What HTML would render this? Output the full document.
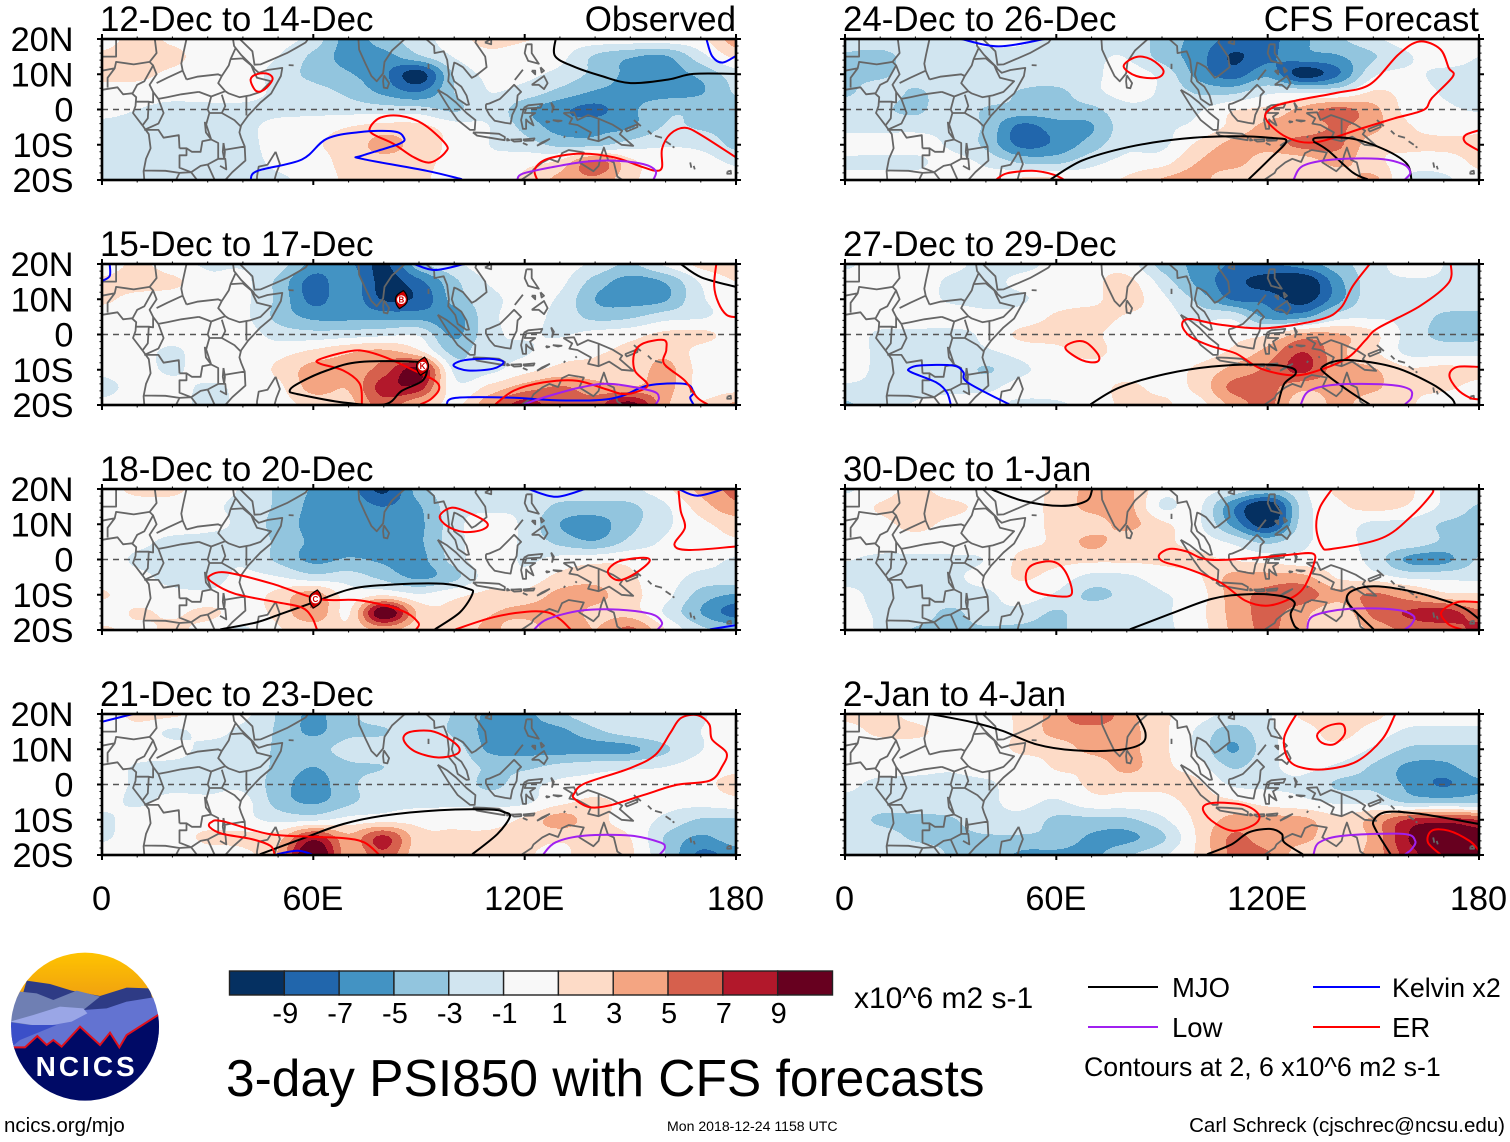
<!DOCTYPE html>
<html lang="en">
<head>
<meta charset="utf-8">
<title>3-day PSI850 with CFS forecasts</title>
<style>
html,body{margin:0;padding:0;background:#fff;}
svg{display:block;}
text{font-family:"Liberation Sans",Arial,sans-serif;fill:#000;}
</style>
</head>
<body>
<svg id="chart" xmlns="http://www.w3.org/2000/svg" width="1510" height="1142" viewBox="0 0 1510 1142">
  <g id="panels"></g>

  <g id="colorbar"></g>
  <text x="854" y="1008" font-size="30">x10^6 m2 s-1</text>

  <text x="226" y="1096" font-size="51.5">3-day PSI850 with CFS forecasts</text>

  <g>
    <line x1="1088" y1="987" x2="1158" y2="987" stroke="#000" stroke-width="2"/>
    <text x="1172" y="997" font-size="27.5">MJO</text>
    <line x1="1313" y1="987" x2="1380" y2="987" stroke="#0000ff" stroke-width="2"/>
    <text x="1392" y="997" font-size="26.8">Kelvin x2</text>
    <line x1="1088" y1="1027" x2="1158" y2="1027" stroke="#a020f0" stroke-width="2"/>
    <text x="1172" y="1037" font-size="27.5">Low</text>
    <line x1="1313" y1="1027" x2="1380" y2="1027" stroke="#ff0000" stroke-width="2"/>
    <text x="1392" y="1037" font-size="27.5">ER</text>
    <text x="1084" y="1076" font-size="26.7">Contours at 2, 6 x10^6 m2 s-1</text>
  </g>

  <g transform="translate(0,940) scale(0.33333)">
    <defs>
      <clipPath id="logo-clip"><circle cx="255" cy="260" r="222"/></clipPath>
      <linearGradient id="logo-sun" x1="0" y1="0" x2="0" y2="1"><stop offset="0" stop-color="#ffc400"/><stop offset="1" stop-color="#f0a010"/></linearGradient>
    </defs>
    <g clip-path="url(#logo-clip)">
      <rect x="30" y="35" width="450" height="140" fill="url(#logo-sun)"/>
      <path d="M80 122 L150 132 L215 152 L300 168 L380 143 L450 145 L490 330 L20 330 Z" fill="#2e3b85"/>
      <path d="M20 215 L60 155 L110 160 L160 180 L230 152 L300 170 L250 210 L130 260 L20 260 Z" fill="#6f7fb3"/>
      <path d="M250 210 L320 205 L380 185 L460 172 L490 230 L490 340 L20 340 L40 300 L130 260 Z" fill="#6373d1"/>
      <path d="M30 245 L100 225 L180 200 L250 205 L262 220 L215 245 L130 260 Z" fill="#9aa6e6"/>
      <path d="M20 245 L90 255 L170 255 L60 300 L30 325 Z" fill="#3b4fc8"/>
      <path d="M20 322 L75 322 L112 288 L140 315 L160 300 L185 320 L240 260 L300 315 L330 278 L358 322 L380 285 L490 215 L490 490 L20 490 Z" fill="#000a66"/>
      <path d="M40 322 L75 322 L112 288 L140 315 L160 300 L185 320 L240 260 L300 315 L330 278 L358 322 L380 285 L490 215" fill="none" stroke="#e0101c" stroke-width="6"/>
    </g>
    <text x="260" y="408" font-size="84" font-weight="700" letter-spacing="9" text-anchor="middle" style="fill:#fff">NCICS</text>
  </g>

  <text x="4" y="1132" font-size="20.5">ncics.org/mjo</text>
  <text x="667" y="1131" font-size="14.1">Mon 2018-12-24 1158 UTC</text>
  <text x="1505" y="1132" font-size="20.5" text-anchor="end">Carl Schreck (cjschrec@ncsu.edu)</text>
</svg>

<script>
// ---------- shared axis data ----------
const lonTicks = [0, 60, 120, 180];
const lonLabels = ["0", "60E", "120E", "180"];
const latTicks = [20, 10, 0, -10, -20];
const latLabels = ["20N", "10N", "0", "10S", "20S"];
const levels = [-9, -7, -5, -3, -1, 1, 3, 5, 7, 9];
const bandColors = ["#053061", "#2166ac", "#4393c3", "#92c5de", "#d1e5f0", "#f8f8f8", "#fddbc7", "#f4a582", "#d6604d", "#b2182b", "#67001f"];
const waveColors = { mjo: "#000000", kelvin: "#0000ff", low: "#a020f0", er: "#ff0000" };

// ---------- PSI850 fields: rows 20N..20S every 5 deg, columns 0..180E every 10 deg ----------
const psiDec12 = [
[0,1.8,.6,0,0,-.3,-1.8,-5.8,-3.8,-1.8,0,1.8,1.2,0,0,0,0,.5,4],
[1.5,2.2,1.6,0,0,-1,-3.5,-5.8,-5.8,-3.4,-.9,.3,-.5,-.5,-3.3,-4.8,-5.2,-1.8,1.5],
[1.6,1.6,.5,0,0,-1.8,-3.6,-4.8,-6.5,-10,-2.8,-.6,-.6,-1.6,-3.6,-5.5,-5.8,-4.5,-2],
[0,0,-.3,0,0,-1.5,-2.2,-3.5,-5.5,-7,-3,-1,-1.8,-3.6,-5.2,-5.5,-5.8,-5.2,-2.8],
[-.4,-1,-1.5,-1.6,-1.6,-1.6,-1.7,-1.8,-2,-2.2,-3.3,-1.6,-4.5,-6.5,-7.5,-5.5,-3.5,-3.3,-3.5],
[-1.5,-1.6,-1.6,-1.6,-1.5,-.3,.3,1,1.8,1.6,0,-1,-3.6,-5.8,-5.6,-5.2,-2.8,-3.2,-3.5],
[-1.6,-1.6,-1.6,-1.6,-1.5,-.3,.8,1.6,3.8,2,.5,-1,-2,-3.5,-3.5,-2,-1.2,-1.6,-3.5],
[-1.6,-1.6,-1.6,-1.6,-1.6,-.6,.2,1.6,2,1.6,.3,-.5,.4,1.6,6,1.6,0,0,-1.4],
[-1.6,-1.5,-1.5,-1.5,-1.5,-1.3,-.3,1.4,1.6,1.4,0,-.5,1.4,3.6,4.5,1.5,0,0,.3]];

const psiDec15 = [
[-.5,1.5,-.3,-1.2,-1.2,-2,-5.8,-6.5,-9.5,-3.8,-1.5,0,0,0,-1.5,-3.2,-.6,1.5,1.8],
[1.5,2,1.5,-.5,-.5,-3.5,-7.8,-5.6,-9.8,-7.5,-3.5,-.8,-.3,-.5,-3.8,-5.8,-4.8,-.8,1],
[1.4,.3,0,0,-.5,-3.5,-7.6,-5.7,-9.2,-8.5,-4.2,-1.6,-.5,-1.3,-5,-5.8,-5.2,-1.3,-.3],
[0,0,0,0,-.5,-3.6,-5.5,-5.5,-5.7,-5.7,-6,-1.6,-.5,-1.6,-3.6,-3.3,-1.8,-1.2,-.3],
[0,0,-.3,-.3,0,-1.8,-2.2,-1.9,-1.5,-1.3,-5.4,-1.6,-.8,-1.2,-.3,.3,1.5,1.5,.3],
[0,-.3,-1.3,0,0,.3,1.5,2.8,3.6,1.6,-3.6,-1.2,-1.2,.3,.8,1.5,2.5,.3,0],
[-.5,-.2,-1.3,0,-.3,1.4,3.8,3.7,6,9.5,-1.5,-1.5,.3,1.6,1.6,1.6,3.7,.3,0],
[-1.6,-.3,-.3,-1.3,-.5,.5,3.8,3.2,8,8,-.3,1.6,4,5.2,4,3.2,3.7,.3,.2],
[-.5,0,-.2,-1.5,-.5,.2,1.6,2.3,6,3,.5,4.5,8,5.5,6,10,3.5,1.2,3.5]];

const psiDec18 = [
[0,1.6,1.6,-.3,-1.2,-3.4,-5.2,-6,-9.5,-4,-1.8,-1.6,-1.6,-1.6,-1.6,-1.4,.5,3.6,5.6],
[0,0,0,-.7,-1.5,-3.4,-5.5,-5.6,-7,-5.2,-1.7,-1.6,-1.5,-3.5,-3.8,-3.4,-1.3,2,4.5],
[0,0,0,-.5,-1.5,-3.8,-5.6,-5.6,-5.6,-5.4,-1.8,.2,-1.5,-5,-5.8,-3.6,-1.4,.5,1.8],
[-.3,-.5,-1.5,-1.6,-1.6,-3.4,-5.4,-5.6,-5.6,-5.3,-1.8,0,-1.4,-3.6,-4.8,-2.4,-.7,.3,.7],
[0,-1.3,-1.6,-1.6,-1.3,-3.4,-5.5,-4.8,-5.3,-5.6,-2.2,.5,-1.3,-.3,.3,.5,-.3,-.3,-1.2],
[0,-.5,-1.5,-1.6,-.6,-.9,-2.2,-2,-3.6,-5.4,-3.6,0,-.3,1.6,2.2,1.2,0,-1.6,-1.6],
[1.2,0,-.5,-.6,0,1.6,4,0,.8,-.8,.5,1.5,1.6,3.6,3.6,1.6,-.3,-3.8,-5.2],
[0,1.2,.7,1.4,.3,1.6,4.8,.8,11,2.5,1.4,2.8,3.6,4,2.5,2,-1.3,-5,-8],
[1.3,.5,1.3,.3,-1.3,.8,1.6,1.4,3.6,1.6,1.4,3.5,1.6,5,3,5.5,1,-2.5,-3.5]];

const psiDec21 = [
[0,1.5,1.4,0,-.5,-3.2,-5.4,-3.4,-1.7,-1.5,-3.2,-5.4,-5.5,-3.4,-1.6,-1.2,-1.4,-1.2,0],
[0,.3,-1.3,-.5,-1.5,-3.3,-5.4,-3.5,-3.2,-1.7,-3.4,-5.6,-5.7,-5.5,-3.5,-2,-1.3,-1,0],
[0,0,-.3,-1.5,-1.6,-3.3,-3.7,-2.2,-1.7,-1.5,-2,-5.4,-5.7,-5.8,-5.8,-5.5,-3.3,-1.1,0],
[0,-1.2,-1.5,-1.6,-1.6,-3.5,-5,-3.4,-3,-1.7,-1.7,-3.4,-3.4,-2.4,-1.7,-1.4,-1,0,.5],
[0,-1.3,-1.6,-1.6,-1.5,-4,-5.9,-3.5,-1.9,-1.6,-1.5,-3.5,-1.8,-.5,-.3,0,0,.5,1.6],
[-.3,-1.3,-.3,-.5,-.3,-3.8,-5.3,-3.4,-1.7,-1.5,-1.4,-1.5,-1.3,.5,1.4,.3,-.3,-.3,.3],
[-1.5,0,.2,.2,-.4,-1.5,-1.4,-.3,.2,.3,.3,.2,1.4,3.9,1.6,.2,-1.5,-3.2,-3.2],
[-1.3,0,.3,1.3,1.5,2.2,8,3.6,7.5,1.8,1.4,1.5,1.8,1.5,1.6,1,-3.2,-5.3,-3.8],
[0,-.3,-.3,.3,.5,3.2,12,3.6,6.5,1.6,1.5,2.2,1.4,.2,3,1.4,-3,-7.5,-6]];

const psiDec24 = [
[-1.5,-1.5,-1.5,-1.5,-.6,-.8,-1.5,-1.5,-1.7,-3.8,-5.7,-7.6,-7.6,-5.4,-3.4,-1.5,0,0,0],
[-3.4,-3.8,-1.8,-1.5,-1.5,-1.4,-1.5,-1.3,-1.1,-3.8,-6,-9.2,-7.5,-5.7,-5.2,-3.2,-1.2,0,-1],
[-3.5,-3.5,-1.6,-1.5,-1.5,-1.5,-1.5,-1.4,-.2,-1.6,-5.6,-8,-5.6,-10,-7.2,-1.4,-.6,-1.5,-1.5],
[-3.5,-1.7,-3.3,-1.6,-1.5,-3.2,-3.5,-1.6,-.3,-1.3,-3.3,-3.6,-1.5,-1.5,-1.4,1.2,.2,-1.2,-1.6],
[-1.5,-2.5,-3.5,-1.5,-3.2,-3.6,-3.7,-3.5,-1.5,-1.5,-1.3,.8,1.5,3.6,5.6,3.6,.3,-.6,-1.2],
[-1.4,-1.5,-1.5,-1.6,-3.4,-7.6,-6,-5.2,-1.7,-1.3,-.5,1.6,3.6,3.8,5.2,3.6,1.2,.3,.5],
[-.2,-.3,-.3,-1.3,-3.5,-7.5,-6.5,-4,-1.5,-1.4,1.4,3.6,3.9,5.6,5.4,1.8,1.4,1.4,1.5],
[-1.4,-1.4,-1.4,-.3,-1.4,-3.2,-3.4,-1.6,-.3,.3,3,3.8,1.6,1.6,3.6,1.6,.2,0,1.4],
[-.3,-.3,-.3,-.3,-.2,1.4,1.4,.3,1.3,3.2,3.8,1.3,1.4,1.6,1.6,3.6,-1.4,-1.4,.3]];

const psiDec27 = [
[-1.4,0,0,-.5,-1.5,-1.5,-.5,.3,0,-3.8,-5.5,-7.2,-7.2,-6,-3.8,-1.8,0,-1,-1.4],
[0,0,0,-1.3,-1.5,-.6,-.2,.5,1.6,-1.8,-5.5,-8.2,-10,-11,-5.7,-1.8,-1.2,-1.2,-1.4],
[0,0,0,-1.3,-1.5,-1.2,0,.5,1.9,-.5,-3.5,-7.2,-7.6,-10,-5.7,-1.5,-1.2,-1.5,-1.5],
[0,0,0,0,-.6,-.2,1.3,1.8,.8,0,-1.7,-1.5,-5.6,-5.5,-1.8,-1.2,-1.5,-3.4,-3.6],
[0,-1.3,-1.4,-1.5,-.6,1.4,1.6,1.4,0,0,0,.3,.8,3.6,3.2,1.5,-1.7,-3.6,-3.6],
[-.2,-1.3,-1.5,-1.4,-1.3,-.3,.5,1.6,0,0,0,1.4,3.8,7,3.6,1.4,-1.5,-1.6,-1.6],
[0,-1.4,-1.4,-1.5,-3.2,-1.4,-.2,0,0,0,1.4,3.6,5.4,7.5,3.8,3.2,1.3,1.6,1.2],
[-1.4,-1.4,-1.4,-1.4,-1.4,-.3,0,.2,1.4,.5,1.5,5.5,5.6,3.6,3.8,3.4,1.4,1.3,.5],
[-3.4,-1.5,-.9,-.3,-.3,-1.4,-1.3,-.2,1.5,1.4,.3,3.6,5.6,1.4,3.6,1.6,1.2,0,0]];

const psiDec30 = [
[-1.3,0,1.5,0,0,0,1.6,3.6,3.6,-.3,0,-1.5,-3.4,-1.3,1.5,1.6,1.4,-1.2,-1.5],
[0,1.2,2,1.5,.5,.3,1.6,3.7,3.8,-1.2,-.5,-6.5,-11,-2.2,.5,1.6,.8,-1.4,-3.2],
[0,.5,1.5,.5,0,0,1.5,1.9,3.6,1.4,-.5,-5.5,-10,-2,-.3,-1.4,-1.6,-3.2,-3.5],
[0,0,.2,0,0,.5,1.4,3.5,1.8,1.4,.2,-1.4,-3.5,-1.3,-.6,-1.4,-1.6,-3.3,-3.5],
[-.9,-1.4,-1.4,-1.3,-.9,1.4,1.5,1.5,1.4,1.4,1.5,.8,.2,-.3,0,-1.7,-5.4,-5.6,-2.8],
[-1.5,-1.5,-1.4,-1.3,-.3,1.2,.2,-1.6,-1.4,0,.7,3.6,3.8,3.6,.8,0,-1.4,-1.5,-1.5],
[-.5,-1.5,-1.6,-1.5,-1.4,0,-1.3,-3.4,-2.4,-1.2,0,3.8,5.6,6.2,3.6,5.4,3.7,1.6,1.3],
[-.5,-1.2,-1.7,-3.4,-1.7,-1.7,-3.2,-1.7,-1.4,-1.3,.3,3.6,5.6,3.7,1.6,5.6,7.2,8,5.6],
[0,-1.3,-3.2,-3.4,-3.3,-3.5,-3.5,-1.5,-1.4,-1.3,0,3.4,5.4,3.2,1.2,3.6,5.6,5.9,7.6]];

const psiJan2 = [
[1.5,1.6,.4,0,0,1.5,4,7,3.7,1.5,-.1,-1.4,-1.2,1.4,1.6,1.5,0,0,0],
[.3,1.4,1.4,.2,0,1.4,3.7,4,3.7,1.5,-1.3,-4,-1.5,.2,1.6,.2,-1.4,-1.6,-1.6],
[0,0,0,0,0,1.4,1.8,3.6,3.6,1.5,-1.3,-5.2,-1.7,0,.4,-1.3,-3.3,-3.5,-3.3],
[0,-.2,-.3,-.7,0,-.3,1.2,1.5,3.6,1.5,0,-3.2,-1.4,-.6,-1.4,-3.3,-5.4,-5.6,-3.7],
[-.6,-1.5,-1.7,-1.6,-1.4,0,0,1.3,1.5,1.4,1.4,-1.3,-1.3,-1.3,-3.3,-3.5,-5.4,-7.2,-5.3],
[-1.4,-1.7,-1.8,-1.7,-1.4,-.5,-1.3,.2,.2,.3,1.6,1.4,.2,-.5,-1.3,-1.4,-3.3,-3.4,-3.3],
[-1.5,-3.4,-3.5,-3.2,-1.8,-1.7,-3.4,-3.5,-3.4,-1.4,1.4,3.6,3.7,3.5,1.6,3.6,7.2,8,7],
[-1.5,-1.7,-3.4,-3.4,-3.2,-3.3,-3.6,-5.3,-5.5,-3.4,1.2,5.3,3.9,3.7,1.6,3.6,9,11,10],
[-1.4,-1.5,-1.4,-3.2,-3.3,-5.4,-5.5,-5.5,-3.4,-1.4,1.3,5.4,5.3,1.6,1.6,3.9,8,11,11]];

// ---------- filtered wave contours: [kind, [lon,lat, lon,lat, ...]] ----------
const wavesDec12 = [
["mjo",[128.8,20,128.6,15.2,133.6,12.3,141.8,9.5,150.1,7.5,160.8,8.5,167.9,10.1,180,10.1]],
["er",[42.2,8.5,44.2,10.1,47.2,10.1,48.4,8.5,46,5.6,43.7,5.3,42.2,8.5]],
["er",[76.2,-4.9,79.1,-2.3,84.5,-1.8,91,-4,97.5,-9.7,97.5,-12.1,93.3,-15,88.6,-13.6,82.7,-9.7,76.8,-6.9,76.2,-4.9]],
["kelvin",[42.2,-19.8,44.2,-17.4,56.7,-14.2,63.8,-8.3,73.2,-6.4,82.7,-6.2,85.6,-7.8,84.5,-9.7,73.8,-13.1,73.8,-14,92.2,-17.4,102.2,-19.8]],
["er",[123.5,-19.8,122.9,-16.9,126.5,-14,135.9,-12.5,145.4,-13.6,153.7,-16.4,157.2,-17.4,159,-16.4,159,-11.2,161.4,-6.9,165.5,-5.2,170.2,-7.3,180,-13.6]],
["kelvin",[171.6,20,173.2,15.2,176.1,13.3,180,15.2]],
["low",[117.9,-19.8,119.4,-18.2,127.6,-16.4,137.1,-14.8,145.4,-14.5,153.7,-15.5,157.2,-17.4,156.6,-19.8]]];

const wavesDec15 = [
["kelvin",[2.2,20,2.2,16.6,0,15.2]],
["kelvin",[88.6,20,94.5,18.3,102.8,20]],
["mjo",[164.3,20,170.2,16.2,180,13.5]],
["er",[174.4,20,173.8,13.8,175,9,177.3,5.6,180,4.9]],
["er",[73.8,-19.8,73.2,-14,68.5,-10.2,62,-8.3,61.4,-7.2,67.3,-5.4,73.2,-4.5,80.3,-6.4,88.6,-10.2,94.5,-13.1,95.7,-15.5,93.3,-18.4,90.4,-19.8]],
["mjo",[80.3,-19.8,68.5,-19.3,55.5,-16.9,53.3,-16,55.5,-14,63.8,-10.2,73.2,-7.8,89.8,-7.8,92.2,-9.3,91,-13.1,85.1,-16,80.3,-19.8]],
["kelvin",[99.8,-8.8,102.8,-7.3,109.9,-6.9,114,-7.8,111,-9.7,103.9,-10.2,99.8,-8.8]],
["kelvin",[97.8,-19.8,100.4,-18,115.7,-17.9,127.6,-18.6,140.7,-18.6,147.8,-17.4,154.9,-14.5,165.5,-14,167.9,-16.4,167,-17.9,167.9,-19.8]],
["er",[111.7,-19.8,117,-15.9,125.3,-13.6,134.8,-13.1,143,-15.5,148.9,-16.9,154.9,-14.5,151.3,-10.3,151.1,-5.4,153.7,-2.5,159.6,-1.6,160.2,-4.4,159.6,-8.3,165.5,-13.1,169,-17.9,171.9,-19.8]],
["low",[119.9,-19.8,125.3,-17.9,135.9,-15,144.2,-14,156,-16,158.1,-17.9,157.2,-19.8]]];

const wavesDec18 = [
["kelvin",[121.1,20,128.8,17.8,137.1,20]],
["kelvin",[163.7,20,169,18.1,176.6,20]],
["er",[163.7,19.5,164.3,13.8,165.5,9,162.5,4.2,166.6,2.7,180,3.7]],
["er",[95.9,12.3,99.2,14.7,104,13.3,109.3,10.4,108.1,8.5,102.8,7.8,98,9.5,95.9,12.3]],
["er",[143.6,-3.5,146.6,-.6,153.7,.5,155.4,-.6,151.3,-4,146.6,-5.9,143.6,-3.5]],
["mjo",[33.6,-19.8,43.6,-17.9,50.7,-15.5,60.2,-12.1,70.9,-8.3,82.7,-7.1,96.9,-6.9,104,-8.3,105.2,-9.7,101.6,-15,94.5,-19.8]],
["er",[61,-19.8,59.6,-16.4,56.7,-13.6,49.6,-12.1,37.7,-9.7,31.2,-6.4,30.6,-4.6,35.4,-3.7,48.4,-6.9,61.4,-11.2,73.2,-11.6,85.1,-14.5,89.8,-17.9,89.2,-19.8]],
["er",[100.4,-19.8,111,-16.4,120.6,-14.8,126.5,-15,130,-16.9,133,-19.8]],
["low",[122.7,-19.8,126.5,-16.9,135.9,-14.5,146.6,-14.2,156,-15.5,159,-17.9,157.8,-19.8]],
["kelvin",[172.6,-19.8,180,-18.6]]];

const wavesDec21 = [
["kelvin",[0,17.8,8.8,20]],
["er",[85.6,12.8,87.4,14.9,93.3,15.2,98,13.3,101.4,10.4,100.4,8.5,95.1,7.7,88.6,9.5,85.6,12.8]],
["er",[134.1,-2.5,137.1,.3,150.1,4.7,157.2,8.5,161.4,14.7,164.3,18.8,169,19.7,172.4,17.1,173.2,12.8,177.3,9,176.1,5.2,172.6,1.1,163.1,-.1,153.7,-3,144.2,-5.9,138.3,-6.4,134.1,-4,134.1,-2.5]],
["mjo",[44.8,-19.8,57.8,-15,68.5,-11.2,80.3,-8.8,95.7,-7.3,109.9,-7.1,114,-7.8,115.8,-9.1,112.3,-14,105.1,-19.8]],
["er",[49,-19.8,47.8,-17.4,42.5,-15.5,34.2,-14,30.6,-12.1,31,-10.7,34.2,-10.4,47.2,-14,59,-14.8,68.5,-15.2,74.4,-16.4,78.6,-19.8]],
["kelvin",[49.6,-19.8,55.5,-18.8,59.6,-19.8]],
["low",[125.3,-19.8,128.8,-16.4,137.1,-14.5,150.1,-14.5,158.4,-16.4,159.8,-17.9,158.4,-19.8]]];

const wavesDec24 = [
["kelvin",[33,20,43.6,17.9,56.7,20]],
["er",[79.1,12.3,82.7,14.9,86.9,14.2,90.4,11.1,88.6,9,82.7,9.5,79.1,12.3]],
["er",[119.4,-2.5,121.8,.8,128.8,2.7,139.5,4.7,149,7.1,157.2,15.7,163.1,19.3,169,17.1,171.4,11.8,172.6,9.4,166.6,3.2,164.3,-.1,156,-2.5,146.6,-5.4,133.6,-9.3,125.3,-7.8,119.4,-2.5]],
["er",[180,-5.9,176.1,-7.3,176.1,-9.3,180,-11.7]],
["er",[43,-19.8,46,-18.1,53.1,-17.4,59,-18.4,62,-19.8]],
["mjo",[58.4,-19.8,67.3,-14.5,80.3,-10.7,95.7,-8.3,109.9,-7.6,121.7,-8.1,125.3,-9.1,120.6,-14,114.6,-19.8]],
["mjo",[133,-9.1,134.1,-8,144.2,-8.3,153.7,-11.6,159.6,-15.5,160.8,-19.8]],
["mjo",[133,-9.1,137.1,-11.6,144.2,-17.9,148.4,-19.8]],
["low",[127.4,-19.8,130,-16,138.3,-14.2,151.3,-14,158.4,-15.5,160.5,-17.9,159,-19.8]]];

const wavesDec27 = [
["er",[62.6,-4,65,-2.1,68.5,-2.3,72,-5.9,71.4,-7.8,67.3,-7.3,62.6,-4]],
["kelvin",[30,-19.8,28.9,-16.4,25.9,-13.6,18.8,-10.7,18.2,-9.7,21.2,-8.8,30.6,-8.8,33.6,-10.7,34.8,-13.6,46.6,-19.8]],
["er",[149,20,144.2,13.8,140.7,7.5,134.8,4.2,119.4,1.8,106.4,2.8,98,4.4,95.7,2.8,98,-.6,103.9,-3.3,111,-5.4,118.1,-9.7,127.6,-11.6,135.9,-9.7,143,-6.4,147.8,-1.6,151.3,1.8,163.1,8,171.4,14.7,172,20]],
["mjo",[69.7,-19.8,78,-15,91,-11.2,104,-9.1,118.1,-8.5,126.5,-9.4,127.9,-11.2,124.7,-14,122.9,-19.8]],
["mjo",[135.3,-9.3,138.3,-7.8,144.2,-7.3,156,-9.3,166.6,-14,172,-17.9,173.2,-19.8]],
["mjo",[135.3,-9.3,135.9,-10.7,143,-16,148.9,-19.8]],
["low",[129.4,-19.8,131.8,-16,139.5,-14.2,153.7,-14.2,160.2,-15.5,160.8,-17.9,159,-19.8]],
["er",[180,-9.2,173.8,-9.2,171.6,-11.6,173.8,-15.5,177.3,-17.9,180,-18.4]]];

const wavesDec30 = [
["mjo",[41.3,20,50.7,16.6,61.4,15.2,68.5,16.6,70.2,20]],
["er",[138.3,20,134.8,14.7,133.8,9,135.4,3.7,138.3,3,152.5,6.1,160.8,12.3,166.6,18.6,166.6,20]],
["er",[51.3,-4.9,53.1,-1.6,59,-.6,62.6,-3.5,64.4,-9.7,60.2,-10.4,53.1,-8.8,51.3,-4.9]],
["er",[89.2,1.3,92.2,3,96.9,2.3,104,-.1,120.6,.8,127.6,1.5,133,1.6,133,-1.6,130,-8.3,125.3,-11.6,119.4,-13.1,113.5,-11.6,106.4,-6.4,96.9,-2.5,90.4,-.6,89.2,1.3]],
["mjo",[80.9,-19.8,92.2,-15.5,104,-11.2,113.5,-9.9,122.9,-10.2,127.6,-12.1,126.5,-15.5,127.6,-18.8,128.8,-19.8]],
["mjo",[150.1,-19.8,144.2,-14,142.4,-11.2,144.2,-8.8,150.1,-7.6,159.6,-8.8,170.2,-11.6,176.1,-14,180,-16.9]],
["low",[131.2,-19.8,133,-16,143,-14,156,-14.2,161.4,-16,160.8,-18.4,159,-19.8]],
["er",[180,-12.1,173.8,-12.1,169.3,-15,171.4,-18.4,175,-19.8]]];

const wavesJan2 = [
["mjo",[24.1,20,36.5,17.6,44.8,15.2,54.3,11.4,64.9,9.7,76.8,9.7,83.9,11.4,85.3,14.7,82.7,20]],
["er",[128.2,20,124.7,13.3,125.9,7.1,130,4.7,137.1,4.4,145.4,6.6,152.5,12.8,156,19.5,156,20]],
["er",[134.1,14.2,137.1,16.6,141.2,17.1,141.8,14.2,138.8,11.4,135.3,11.9,134.1,14.2]],
["er",[101.6,-6.6,105.1,-5.2,113.5,-5.9,117.6,-8.8,115.8,-11.6,109.9,-13.1,104,-10.2,101.6,-6.6]],
["mjo",[102.8,-19.8,109.9,-16.9,114.6,-13.6,120.5,-12.6,124,-14,124.7,-16.4,130,-19.8]],
["mjo",[154.9,-19.8,150.8,-13.1,150.1,-10.2,153.7,-7.8,163.1,-8.3,180,-11.2]],
["low",[133,-19.8,134.7,-16.4,141.8,-14.5,158.4,-14,161.9,-16,160.8,-18.4,159,-19.8]],
["er",[169,-19.8,165.5,-16.4,166.6,-13.1,171.4,-13.1,177.3,-16,180,-18.8]]];

// ---------- tropical cyclone positions ----------
const cyclonesDec15 = [[85, 9.9, "B"], [91, -9, "K"]];
const cyclonesDec18 = [[60.6, -11.2, "C"]];

// ---------- coastlines and borders (lon,lat) ----------
const coastlines = [
[0,5.6,4.4,6.3,6,4.3,8.5,4.6,9.7,3.5,9.5,1,8.8,-1,11.5,-4.5,13.3,-7,13.8,-11,12.5,-14,11.8,-17.5,12,-20],
[37.2,20,37.5,18,39.5,15.5,43,12,43.3,11.5,44.5,10.4,47,11.2,51.2,11.8,50.8,9.5,48,4.5,45,2,41.5,-1.7,39.5,-4.5,39,-6.5,39.5,-8,40.5,-10.5,40.7,-14.5,37,-17.8,35,-20],
[39.1,20,42.7,16.5,43.3,12.7,45,12.8,49,14.5,52.5,16,55.2,17.5,57.8,19,58.5,20],
[72.8,20,73,17,74.8,13,76.5,9.5,78,8,79.8,10.2,80.2,13.5,82.3,16.7,86,20],
[80,9.7,81.5,7.5,81,6,80,6.2,79.8,8,80,9.7],
[92.7,13,92.7,11.5],[53,12.6,54.4,12.5],
[92,20,94.3,18,94.4,16,97,16.5,98,14,98.5,10,98.3,8,100.3,5.5,101,3,103.5,1.3,104.2,1.4,103.5,4,102,6.5,100,8,99.3,10,100,13.3,100.8,13,102.5,12,105,9,106,9.5,109.2,12,108.8,15,106,19,106.5,20.5],
[95.3,5.6,98,4,100.5,2,103.5,-1,106,-3,105.8,-5.8,104.5,-5.8,101,-3,98.5,.5,95.3,5.6],
[105.3,-6.5,108.5,-6.6,112.7,-6.9,114.4,-7.8,114.3,-8.7,110,-8,106.5,-7.4,105.3,-6.5],
[115,-8.2,115.6,-8.7,115,-8.8,115,-8.2],[116,-8.5,117,-8.5,119,-8.4,119,-9,117,-9.1,116,-8.5],
[119.5,-8.5,122.8,-8.2,122.5,-8.8,120,-8.9,119.5,-8.5],[119.5,-9.5,120.8,-10.1],
[123.5,-10.3,125,-9.3,127,-8.4,125.5,-9.3,123.5,-10.3],
[109,1.5,110,1.7,113,3,115,5,117,7,119,5,118,4,117.7,1,116.5,-1.5,116,-4,114.5,-3.8,111.5,-3.2,110,-1.5,109,.3,109,1.5],
[119.8,.5,121,1.2,125,1.6,124.5,.5,120.5,.3,120,-1,123,-1,121.5,-2,122.5,-4.5,121,-3.5,120.4,-2.8,120.4,-5.5,119.5,-5.5,119,-3,119.8,.5],
[127.5,2,128,.5,127.8,-.7,128.3,.8,127.5,2],
[128,-3,130.5,-3.2,129.5,-3.4,128,-3],[126,-3.3,127,-3.5,126.3,-3.7,126,-3.3],
[131,-1,134,-.8,135,-3,138,-1.6,141,-2.6,145,-4.3,147.7,-6,147,-7,150.8,-10.3,147.5,-10,144,-7.7,141,-9,138,-8.3,138.8,-6.5,135,-4.4,132.7,-4,133.5,-2.5,131,-1],
[141,-2.6,141,-9],
[148.5,-5.6,152,-4.2,152,-5,149,-6.2,148.5,-5.6],[151,-3,153,-4.7],
[155,-6,156,-7],[157,-7.5,159,-8],[160,-9,161.5,-10],[162,-10.5,162.5,-10.8],
[134.4,-6.2,134.8,-6.6],[131.5,-7.5,131.1,-8],
[167,-15,167.3,-16.5],[168,-16,168.3,-17],
[177.6,-17.6,178.5,-17.4,178.6,-18.2,177.5,-18.2,177.6,-17.6],
[113.5,-22,114,-21.8,117,-20.6,119,-20,122,-18,122.5,-17,125,-15,127,-14,129.5,-14.9,130.6,-12.4,132.5,-11.5,136.8,-12.2,135.5,-15,139.5,-17.5,141,-16,141.7,-13,142.5,-10.8,143.7,-14.3,145.3,-15,146.3,-19,148.5,-20.5],
[49.3,-12,50.5,-15.5,49.5,-18,48.7,-21,44,-21,44,-19,44.5,-16.2,47,-15.7,49.3,-12],
[120.5,18.5,122,18.5,122,16,124,13,121,13.8,120,16,120.5,18.5],
[122,7,125.5,9.5,126.5,7.5,125.5,5.8,124,7,122,7],[117.2,8.4,119.5,11.3],
[122,11,123,10,123,11,122,11],[124.5,12,125.5,11,124.8,10.5,124.5,12],
[108.7,19,110.5,20,110.5,18.5,108.7,19],
[1.6,6.2,1.6,9,3.6,11.7,4,13.5,9,12.8,13.5,13.5],[0,11,2.5,11.5,3.6,11.7],[0,15,4,15,4,20],
[8.7,4.6,10,7,12,8,14.5,12.5,13.5,13.5,15.5,16,15,20],
[14.5,12.5,15.5,10,13.5,7,14.5,5,16,3,18.5,3.5,22.5,4.3,27.5,5],[15.5,7.5,18.5,9,22.9,11,22.5,13,23,15.5,24,20],
[24,8.5,27,9.3,33,10,34,9.5,33,7.5,35,5.2,31,3.7,27.5,5],[24,8.5,22.9,11],
[34,9.5,36,12.5,36.5,14.3,38,17.5],[36.5,14.3,40,14.5,42.4,12.5],[42.4,12.5,43,11,44,9,48,8,45,5,42,4,39,3.5,35.9,4.6,35,5.2],
[41,3.9,41,-1.7],[34,4.2,35,1,34,-1,37.6,-3,39.3,-4.7],[30.5,-1,34,-1],[31,3.7,30,0,30.5,-1,29.5,-4.5],
[29.2,-3.5,29.5,-6.5,31,-8.5,30.5,-7,29.5,-4],[34.5,-11.5,40.5,-10.5],[34.5,-9.5,34.3,-12,34.7,-14,34.9,-12,34.5,-9.5],
[22,-11,24,-11,25.5,-12,28,-12,28.5,-9,31,-8.5,33,-9.5,33,-14,30,-15.6,28,-16,25.3,-17.8,22,-16.5,22,-13,24,-13,24,-11],
[12,-17.3,18,-17.4,22,-18,25.3,-17.8],[12,-5.8,16,-5.8,17.5,-8,21.8,-7.3,22,-11],
[9.8,2.2,13.3,2.2,14.5,2,14.5,5],[13.3,2.2,13,-2.5,11.5,-4.5],[16,3,17.5,-1,16,-4,12,-5.8],
[30,-15.6,32,-20],[33,-14,35,-14,35.3,-17,33.5,-16],[25.3,-17.8,27,-20],[22,-18,21,-20]
];

// ---------- panel configuration ----------
const panelTitles = ["12-Dec to 14-Dec","15-Dec to 17-Dec","18-Dec to 20-Dec","21-Dec to 23-Dec","24-Dec to 26-Dec","27-Dec to 29-Dec","30-Dec to 1-Jan","2-Jan to 4-Jan"];
const panelFields = [psiDec12, psiDec15, psiDec18, psiDec21, psiDec24, psiDec27, psiDec30, psiJan2];
const panelWaves = [wavesDec12, wavesDec15, wavesDec18, wavesDec21, wavesDec24, wavesDec27, wavesDec30, wavesJan2];
const panelCyclones = [[], cyclonesDec15, cyclonesDec18, [], [], [], [], []];
const colorbarTicks = [-9, -7, -5, -3, -1, 1, 3, 5, 7, 9];

const NS = "http://www.w3.org/2000/svg";
const PW = 634, PH = 141;

function svgEl(tag, attrs, parent) {
  const el = document.createElementNS(NS, tag);
  for (const k in attrs) el.setAttribute(k, attrs[k]);
  parent.appendChild(el);
  return el;
}
function catmull(a, b, c, d, t) {
  return 0.5 * (2 * b + (c - a) * t + (2 * a - 5 * b + 4 * c - d) * t * t + (3 * b - a - 3 * c + d) * t * t * t);
}
function sampleField(grid, lon, lat) {
  const nx = grid[0].length, ny = grid.length;
  const fx = lon / 10, fy = (20 - lat) / 5;
  const ix = Math.min(nx - 2, Math.floor(fx)), iy = Math.min(ny - 2, Math.floor(fy));
  const tx = fx - ix, ty = fy - iy;
  const rows = [];
  for (let j = -1; j <= 2; j++) {
    const r = grid[Math.max(0, Math.min(ny - 1, iy + j))];
    const g = i => r[Math.max(0, Math.min(nx - 1, i))];
    rows.push(catmull(g(ix - 1), g(ix), g(ix + 1), g(ix + 2), tx));
  }
  return catmull(rows[0], rows[1], rows[2], rows[3], ty);
}
function bandIndex(v) {
  let i = 0;
  while (i < levels.length && v >= levels[i]) i++;
  return i;
}
function smoothPath(flat, xs, ys) {
  const pts = [];
  for (let i = 0; i < flat.length; i += 2) pts.push([xs(flat[i]), ys(flat[i + 1])]);
  const n = pts.length;
  const closed = n > 3 && pts[0][0] === pts[n - 1][0] && pts[0][1] === pts[n - 1][1];
  const at = i => {
    if (closed) return pts[((i % (n - 1)) + (n - 1)) % (n - 1)];
    return pts[Math.max(0, Math.min(n - 1, i))];
  };
  let d = "M" + pts[0][0].toFixed(1) + " " + pts[0][1].toFixed(1);
  for (let i = 0; i < n - 1; i++) {
    const p0 = at(i - 1), p1 = at(i), p2 = at(i + 1), p3 = at(i + 2);
    d += "C" + (p1[0] + (p2[0] - p0[0]) / 6).toFixed(1) + " " + (p1[1] + (p2[1] - p0[1]) / 6).toFixed(1) + " " +
         (p2[0] - (p3[0] - p1[0]) / 6).toFixed(1) + " " + (p2[1] - (p3[1] - p1[1]) / 6).toFixed(1) + " " +
         p2[0].toFixed(1) + " " + p2[1].toFixed(1);
  }
  return d;
}
function linePath(flat, xs, ys) {
  let d = "";
  for (let i = 0; i < flat.length; i += 2) d += (i ? "L" : "M") + xs(flat[i]).toFixed(1) + " " + ys(flat[i + 1]).toFixed(1);
  return d;
}

const root = document.getElementById("panels");
panelTitles.forEach((title, p) => {
  const col = p < 4 ? 0 : 1, row = p % 4;
  const x0 = col ? 845 : 102, y0 = 39 + row * 225;
  const xs = lon => x0 + lon / 180 * PW;
  const ys = lat => y0 + (20 - lat) / 40 * PH;

  const g = svgEl("g", {}, root);
  
  

  const clip = svgEl("clipPath", { id: "clip" + p }, g);
  svgEl("rect", { x: x0, y: y0, width: PW, height: PH }, clip);

  // filled contour bands
  const fill = svgEl("g", { "clip-path": "url(#clip" + p + ")", "shape-rendering": "crispEdges" }, g);
  
  
  const bands = bandColors.map(() => []);
  const grid = panelFields[p];
  for (let py = 0; py < PH; py++) {
    const lat = 20 - (py + 0.5) / PH * 40;
    let start = 0, cur = bandIndex(sampleField(grid, 0.5 / PW * 180, lat));
    for (let px = 1; px <= PW; px++) {
      const b = px < PW ? bandIndex(sampleField(grid, (px + 0.5) / PW * 180, lat)) : -1;
      if (b !== cur) {
        bands[cur].push("M" + (x0 + start) + " " + (y0 + py) + "h" + (px - start) + "v1h" + (start - px) + "z");
        start = px; cur = b;
      }
    }
  }
  bands.forEach((segs, i) => {
    if (!segs.length) return;
    const path = svgEl("path", { d: segs.join(""), fill: bandColors[i] }, fill);
    
    
  });

  // coastlines and borders
  const coast = svgEl("path", {
    d: coastlines.map(c => linePath(c, xs, ys)).join(""),
    fill: "none", stroke: "#666", "stroke-width": 1.8, "stroke-linejoin": "round", "clip-path": "url(#clip" + p + ")"
  }, g);
  
  

  // equator
  const eq = svgEl("line", { x1: xs(0), x2: xs(180), y1: ys(0), y2: ys(0), stroke: "#555", "stroke-width": 1.6, "stroke-dasharray": "6 5" }, g);
  
  

  // wave contours
  panelWaves[p].forEach(w => {
    const path = svgEl("path", {
      d: smoothPath(w[1], xs, ys), fill: "none", stroke: waveColors[w[0]], "stroke-width": 2,
      "stroke-linejoin": "round", "clip-path": "url(#clip" + p + ")"
    }, g);
    
    
  });

  // tropical cyclones
  panelCyclones[p].forEach(c => {
    const cg = svgEl("g", { transform: "translate(" + xs(c[0]).toFixed(1) + "," + ys(c[1]).toFixed(1) + ")" }, g);
    
    
    svgEl("path", { d: "M2 -9C-1 -7 -6 -5 -6 0C-6 4 -4 7 -2 9C1 7 6 5 6 0C6 -4 4 -7 2 -9Z", fill: "#d40000", stroke: "#000", "stroke-width": 1.2 }, cg);
    svgEl("circle", { r: 4.4, fill: "#fff" }, cg);
    const t = svgEl("text", { y: 3, "font-size": 8, "font-weight": 700, "text-anchor": "middle", style: "fill:#d40000" }, cg);
    t.textContent = c[2];
    
    
  });

  // ticks
  let maj = "", min = "";
  for (let lon = 0; lon <= 180; lon += 10) {
    const L = lonTicks.includes(lon) ? 5 : 2.5;
    const s = "M" + xs(lon).toFixed(1) + " " + (y0 - L) + "V" + y0 + "M" + xs(lon).toFixed(1) + " " + (y0 + PH) + "V" + (y0 + PH + L);
    if (L === 5) maj += s; else min += s;
  }
  for (let lat = -20; lat <= 20; lat += 2) {
    const L = lat % 10 === 0 ? 5 : 2.5;
    const s = "M" + (x0 - L) + " " + ys(lat).toFixed(1) + "H" + x0 + "M" + (x0 + PW) + " " + ys(lat).toFixed(1) + "H" + (x0 + PW + L);
    if (L === 5) maj += s; else min += s;
  }
  const tickMaj = svgEl("path", { d: maj, stroke: "#000", "stroke-width": 2, fill: "none" }, g);
  
  
  const tickMin = svgEl("path", { d: min, stroke: "#000", "stroke-width": 1, fill: "none" }, g);
  
  

  // frame
  const frame = svgEl("rect", { x: x0, y: y0, width: PW, height: PH, fill: "none", stroke: "#000", "stroke-width": 2.6 }, g);
  
  

  // labels
  const tt = svgEl("text", { x: x0 - 2, y: y0 - 8, "font-size": 34.9 }, g);
  tt.textContent = title;
  
  

  if (row === 0) {
    const tag = svgEl("text", { x: x0 + PW, y: y0 - 8, "font-size": 34.9, "text-anchor": "end" }, g);
    tag.textContent = col ? "CFS Forecast" : "Observed";
    
    
  }
  if (col === 0) {
    latTicks.forEach((lat, i) => {
      const t = svgEl("text", { x: 73.5, y: ys(lat) + 12, "font-size": 34.3, "text-anchor": "end" }, g);
      t.textContent = latLabels[i];
      
      
    });
  }
  if (row === 3) {
    lonTicks.forEach((lon, i) => {
      const t = svgEl("text", { x: xs(lon) - 0.5, y: 910, "font-size": 34.3, "text-anchor": "middle" }, g);
      t.textContent = lonLabels[i];
      
      
    });
  }
});

// colorbar
const cb = document.getElementById("colorbar");
const cbX = 229.5, cbW = 603, cbY = 971, cbH = 24;
const boxW = cbW / bandColors.length;
bandColors.forEach((c, i) => {
  const r = svgEl("rect", { x: cbX + i * boxW, y: cbY, width: boxW, height: cbH, fill: c, stroke: "#222", "stroke-width": 1.4 }, cb);
  
  
});
colorbarTicks.forEach((v, i) => {
  const t = svgEl("text", { x: cbX + (i + 1) * boxW + 1, y: 1023, "font-size": 29, "text-anchor": "middle" }, cb);
  t.textContent = String(v);
  
  
});
</script>
</body>
</html>
